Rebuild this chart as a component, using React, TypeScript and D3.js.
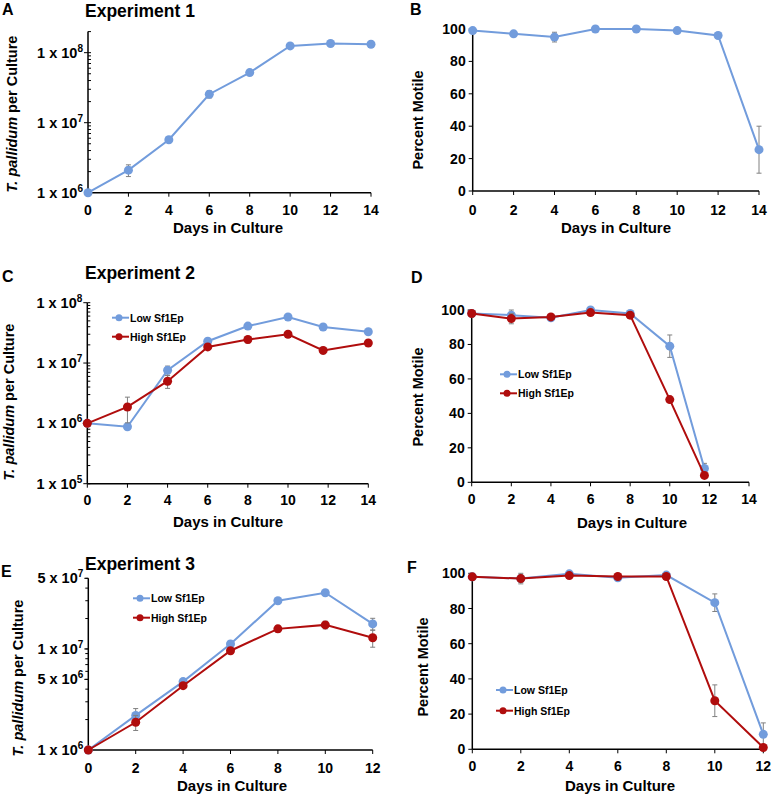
import React from "react";
import * as d3 from "d3";

// ---------- DATA ----------
const daysA = [0, 2, 4, 6, 8, 10, 12, 14];
const countA = [1e6, 2.1e6, 5.7e6, 2.55e7, 5.2e7, 1.25e8, 1.35e8, 1.32e8];
const countAErr = [0, 0.4e6, 0.5e6, 0.3e7, 0, 0, 0, 0];

const motileB = [99, 97, 95, 100, 100, 99, 96, 25.5];
const motileBErr = [0, 1.5, 3, 0, 0, 0, 0, 14.5];

const daysC = [0, 2, 4, 6, 8, 10, 11.75, 14];
const countCLow = [1e6, 0.88e6, 7.6e6, 2.3e7, 4.1e7, 5.8e7, 3.95e7, 3.3e7];
const countCLowErr = [0, 0, 1.3e6, 0, 0, 0.5e7, 0, 0.3e7];
const countCHigh = [1e6, 1.87e6, 5e6, 1.85e7, 2.45e7, 3e7, 1.62e7, 2.15e7];
const countCHighErr = [0, 0.85e6, 1.2e6, 0, 0.3e7, 0, 0.2e7, 0];

const daysD = [0, 2, 4, 6, 8, 10, 11.75];
const motileDLow = [98, 97, 95.5, 100, 98, 79, 8];
const motileDLowErr = [0, 3, 0, 0, 0, 6.5, 3];
const motileDHigh = [98, 95, 96, 98.5, 97, 48, 4];
const motileDHighErr = [0, 3, 0, 0, 0, 0, 0];

const daysE = [0, 2, 4, 6, 8, 10, 12];
const countELow = [1e6, 2.2e6, 4.75e6, 1.12e7, 3e7, 3.6e7, 1.77e7];
const countELowErr = [0, 0.37e6, 0.3e6, 0, 0, 0, 0.24e7];
const countEHigh = [1e6, 1.88e6, 4.33e6, 9.6e6, 1.58e7, 1.73e7, 1.29e7];
const countEHighErr = [0, 0.32e6, 0, 0, 0.12e7, 0.15e7, 0.25e7];

const daysF = [0, 2, 4, 6, 8, 10, 12];
const motileFLow = [98, 97, 99.7, 97.5, 99, 83.3, 8.5];
const motileFLowErr = [0, 3, 0, 0, 0, 5, 6.5];
const motileFHigh = [98, 97, 98.7, 98.2, 98.2, 27.6, 1];
const motileFHighErr = [0, 2, 0, 0, 0, 9, 0];

const ticks14 = [0, 2, 4, 6, 8, 10, 12, 14];
const ticks12 = [0, 2, 4, 6, 8, 10, 12];
const pctTicks = [0, 20, 40, 60, 80, 100];
const logTicksAC = [
  { v: 1e5, m: "1", e: "5" },
  { v: 1e6, m: "1", e: "6" },
  { v: 1e7, m: "1", e: "7" },
  { v: 1e8, m: "1", e: "8" },
];
const logTicksE = [
  { v: 1e6, m: "1", e: "6" },
  { v: 5e6, m: "5", e: "6" },
  { v: 1e7, m: "1", e: "7" },
  { v: 5e7, m: "5", e: "7" },
];

const LOW_LABEL = "Low Sf1Ep";
const HIGH_LABEL = "High Sf1Ep";
const X_TITLE = "Days in Culture";
const Y_PCT = "Percent Motile";

// ---------- STYLE ----------
const BLUE = "#729cdc";
const RED = "#b00d0d";
const GRAY = "#808080";
const FONT = "'Liberation Sans', Arial, sans-serif";

type Series = { x: number[]; y: number[]; err: number[]; color: string };

function minorTicks(lo: number, hi: number) {
  const out: number[] = [];
  for (let dec = Math.pow(10, Math.floor(Math.log10(lo))); dec <= hi; dec *= 10) {
    for (let k = 1; k <= 9; k++) {
      const v = k * dec;
      if (v >= lo - 1e-6 && v <= hi * 1.0001) out.push(v);
    }
  }
  return out;
}

function Panel(props: {
  letter: string;
  letterPos: [number, number];
  title?: string;
  titlePos?: [number, number];
  xDomain: [number, number];
  xRange: [number, number];
  xTicks: number[];
  xTickY: number;
  xTitlePos: [number, number];
  log: boolean;
  yDomain: [number, number];
  yRange: [number, number];
  yTicksLin?: number[];
  yTicksLog?: { v: number; m: string; e: string }[];
  minorDir?: number;
  yTitle: string;
  yTitlePos: [number, number];
  italic?: boolean;
  series: Series[];
  legend?: { x: number; y: number; gap: number };
}) {
  const x = d3.scaleLinear().domain(props.xDomain).range(props.xRange);
  const y: any = props.log
    ? d3.scaleLog().domain(props.yDomain).range(props.yRange)
    : d3.scaleLinear().domain(props.yDomain).range(props.yRange);
  const x0 = props.xRange[0];
  const yb = props.yRange[0];
  const line = d3
    .line<[number, number]>()
    .x((d) => x(d[0]))
    .y((d) => y(d[1]));
  return (
    <g fontFamily={FONT} fontWeight="bold" fill="#000">
      <text x={props.letterPos[0]} y={props.letterPos[1]} fontSize={16}>
        {props.letter}
      </text>
      {props.title && (
        <text x={props.titlePos![0]} y={props.titlePos![1]} fontSize={17.5}>
          {props.title}
        </text>
      )}
      {/* axes */}
      <line x1={x0} x2={x0} y1={props.yRange[1]} y2={yb} stroke="#000" strokeWidth={1.5} />
      <line x1={x0} x2={props.xRange[1]} y1={yb} y2={yb} stroke="#000" strokeWidth={1.5} />
      {props.xTicks.map((t) => (
        <g key={"xt" + t}>
          <line x1={x(t)} x2={x(t)} y1={yb} y2={yb + 4} stroke="#000" strokeWidth={1} />
          <text x={x(t)} y={props.xTickY} fontSize={14} textAnchor="middle">
            {t}
          </text>
        </g>
      ))}
      <text x={props.xTitlePos[0]} y={props.xTitlePos[1]} fontSize={15} textAnchor="middle">
        {X_TITLE}
      </text>
      {props.yTicksLin &&
        props.yTicksLin.map((t) => (
          <g key={"yt" + t}>
            <line x1={x0 - 4} x2={x0} y1={y(t)} y2={y(t)} stroke="#000" strokeWidth={1} />
            <text x={x0 - 7} y={y(t) + 5} fontSize={14} textAnchor="end">
              {t}
            </text>
          </g>
        ))}
      {props.yTicksLog &&
        minorTicks(props.yDomain[0], props.yDomain[1]).map((t, i) => (
          <line
            key={"mt" + i}
            x1={x0}
            x2={x0 + (props.minorDir || 1) * 3}
            y1={y(t)}
            y2={y(t)}
            stroke="#000"
            strokeWidth={1}
          />
        ))}
      {props.yTicksLog &&
        props.yTicksLog
          .filter((t) => t.v >= props.yDomain[0] && t.v <= props.yDomain[1])
          .map((t) => (
            <g key={"lt" + t.v}>
              <line x1={x0 - 4} x2={x0} y1={y(t.v)} y2={y(t.v)} stroke="#000" strokeWidth={1} />
              <text x={x0 - 5} y={y(t.v) + 5} fontSize={14.5} textAnchor="end">
                {t.m + " x 10"}
                <tspan dy={-6} fontSize={10}>
                  {t.e}
                </tspan>
              </text>
            </g>
          ))}
      <text
        transform={`translate(${props.yTitlePos[0]},${props.yTitlePos[1]}) rotate(-90)`}
        fontSize={14.5}
        textAnchor="middle"
        dominantBaseline="central"
      >
        {props.italic ? (
          <>
            <tspan fontStyle="italic">T. pallidum</tspan>
            <tspan> per Culture</tspan>
          </>
        ) : (
          props.yTitle
        )}
      </text>
      {/* series */}
      {props.series.map((s, si) => {
        const pts: [number, number][] = s.x.map((xv, i) => [xv, s.y[i]]);
        return (
          <g key={"s" + si}>
            {pts.map((p, i) =>
              s.err[i] > 0 ? (
                <g key={"e" + i} stroke={GRAY} strokeWidth={1}>
                  <line x1={x(p[0])} x2={x(p[0])} y1={y(p[1] + s.err[i])} y2={y(p[1] - s.err[i])} />
                  <line x1={x(p[0]) - 2.5} x2={x(p[0]) + 2.5} y1={y(p[1] + s.err[i])} y2={y(p[1] + s.err[i])} />
                  <line x1={x(p[0]) - 2.5} x2={x(p[0]) + 2.5} y1={y(p[1] - s.err[i])} y2={y(p[1] - s.err[i])} />
                </g>
              ) : null
            )}
            <path d={line(pts) || ""} fill="none" stroke={s.color} strokeWidth={2} />
            {pts.map((p, i) => (
              <circle key={"c" + i} cx={x(p[0])} cy={y(p[1])} r={4.5} fill={s.color} />
            ))}
          </g>
        );
      })}
      {props.legend &&
        [
          { c: BLUE, t: LOW_LABEL },
          { c: RED, t: HIGH_LABEL },
        ].map((l, i) => {
          const ly = props.legend!.y + i * props.legend!.gap;
          const lx = props.legend!.x;
          return (
            <g key={"lg" + i}>
              <line x1={lx} x2={lx + 17} y1={ly} y2={ly} stroke={l.c} strokeWidth={2} />
              <circle cx={lx + 7} cy={ly} r={3.5} fill={l.c} />
              <text x={lx + 18} y={ly + 4} fontSize={10.5}>
                {l.t}
              </text>
            </g>
          );
        })}
    </g>
  );
}

export default function App() {
  return (
    <svg
      width={771}
      height={796}
      style={{ position: "absolute", left: 0, top: 0, background: "#fff" }}
    >
      <rect width={771} height={796} fill="#fff" />
      {/* A */}
      <Panel
        letter="A"
        letterPos={[2, 15]}
        title="Experiment 1"
        titlePos={[85, 17]}
        xDomain={[0, 14]}
        xRange={[88, 371]}
        xTicks={ticks14}
        xTickY={215}
        xTitlePos={[228, 233]}
        log
        yDomain={[1e6, 2e8]}
        yRange={[192.7, 31.6]}
        yTicksLog={logTicksAC}
        minorDir={1}
        yTitle=""
        yTitlePos={[12, 114]}
        italic
        series={[{ x: daysA, y: countA, err: countAErr, color: BLUE }]}
      />
      {/* B */}
      <Panel
        letter="B"
        letterPos={[410, 15]}
        xDomain={[0, 14]}
        xRange={[472.7, 759]}
        xTicks={ticks14}
        xTickY={215}
        xTitlePos={[616, 233]}
        log={false}
        yDomain={[0, 100]}
        yRange={[191, 29]}
        yTicksLin={pctTicks}
        yTitle={Y_PCT}
        yTitlePos={[418, 120]}
        series={[{ x: daysA, y: motileB, err: motileBErr, color: BLUE }]}
      />
      {/* C */}
      <Panel
        letter="C"
        letterPos={[2, 282]}
        title="Experiment 2"
        titlePos={[85, 279]}
        xDomain={[0, 14]}
        xRange={[87.3, 368.3]}
        xTicks={ticks14}
        xTickY={505}
        xTitlePos={[228, 527]}
        log
        yDomain={[1e5, 1e8]}
        yRange={[483.7, 302.7]}
        yTicksLog={logTicksAC}
        minorDir={1}
        yTitle=""
        yTitlePos={[9, 402]}
        italic
        series={[
          { x: daysC, y: countCLow, err: countCLowErr, color: BLUE },
          { x: daysC, y: countCHigh, err: countCHighErr, color: RED },
        ]}
        legend={{ x: 112, y: 317.7, gap: 19 }}
      />
      {/* D */}
      <Panel
        letter="D"
        letterPos={[411, 283]}
        xDomain={[0, 14]}
        xRange={[471.7, 749]}
        xTicks={ticks14}
        xTickY={504}
        xTitlePos={[632, 528]}
        log={false}
        yDomain={[0, 100]}
        yRange={[482.3, 310]}
        yTicksLin={pctTicks}
        yTitle={Y_PCT}
        yTitlePos={[418, 397]}
        series={[
          { x: daysD, y: motileDLow, err: motileDLowErr, color: BLUE },
          { x: daysD, y: motileDHigh, err: motileDHighErr, color: RED },
        ]}
        legend={{ x: 500, y: 374.3, gap: 19 }}
      />
      {/* E */}
      <Panel
        letter="E"
        letterPos={[1, 577]}
        title="Experiment 3"
        titlePos={[85, 570]}
        xDomain={[0, 12]}
        xRange={[88.3, 372.7]}
        xTicks={ticks12}
        xTickY={773}
        xTitlePos={[232, 791]}
        log
        yDomain={[1e6, 5e7]}
        yRange={[750, 578.3]}
        yTicksLog={logTicksE}
        minorDir={-1}
        yTitle=""
        yTitlePos={[18, 678]}
        italic
        series={[
          { x: daysE, y: countELow, err: countELowErr, color: BLUE },
          { x: daysE, y: countEHigh, err: countEHighErr, color: RED },
        ]}
        legend={{ x: 133, y: 598.3, gap: 19.4 }}
      />
      {/* F */}
      <Panel
        letter="F"
        letterPos={[407, 573]}
        xDomain={[0, 12]}
        xRange={[472.3, 763.3]}
        xTicks={ticks12}
        xTickY={771}
        xTitlePos={[620, 791]}
        log={false}
        yDomain={[0, 100]}
        yRange={[749.3, 573.3]}
        yTicksLin={pctTicks}
        yTitle={Y_PCT}
        yTitlePos={[423, 667]}
        series={[
          { x: daysF, y: motileFLow, err: motileFLowErr, color: BLUE },
          { x: daysF, y: motileFHigh, err: motileFHighErr, color: RED },
        ]}
        legend={{ x: 496, y: 690, gap: 20.7 }}
      />
    </svg>
  );
}
